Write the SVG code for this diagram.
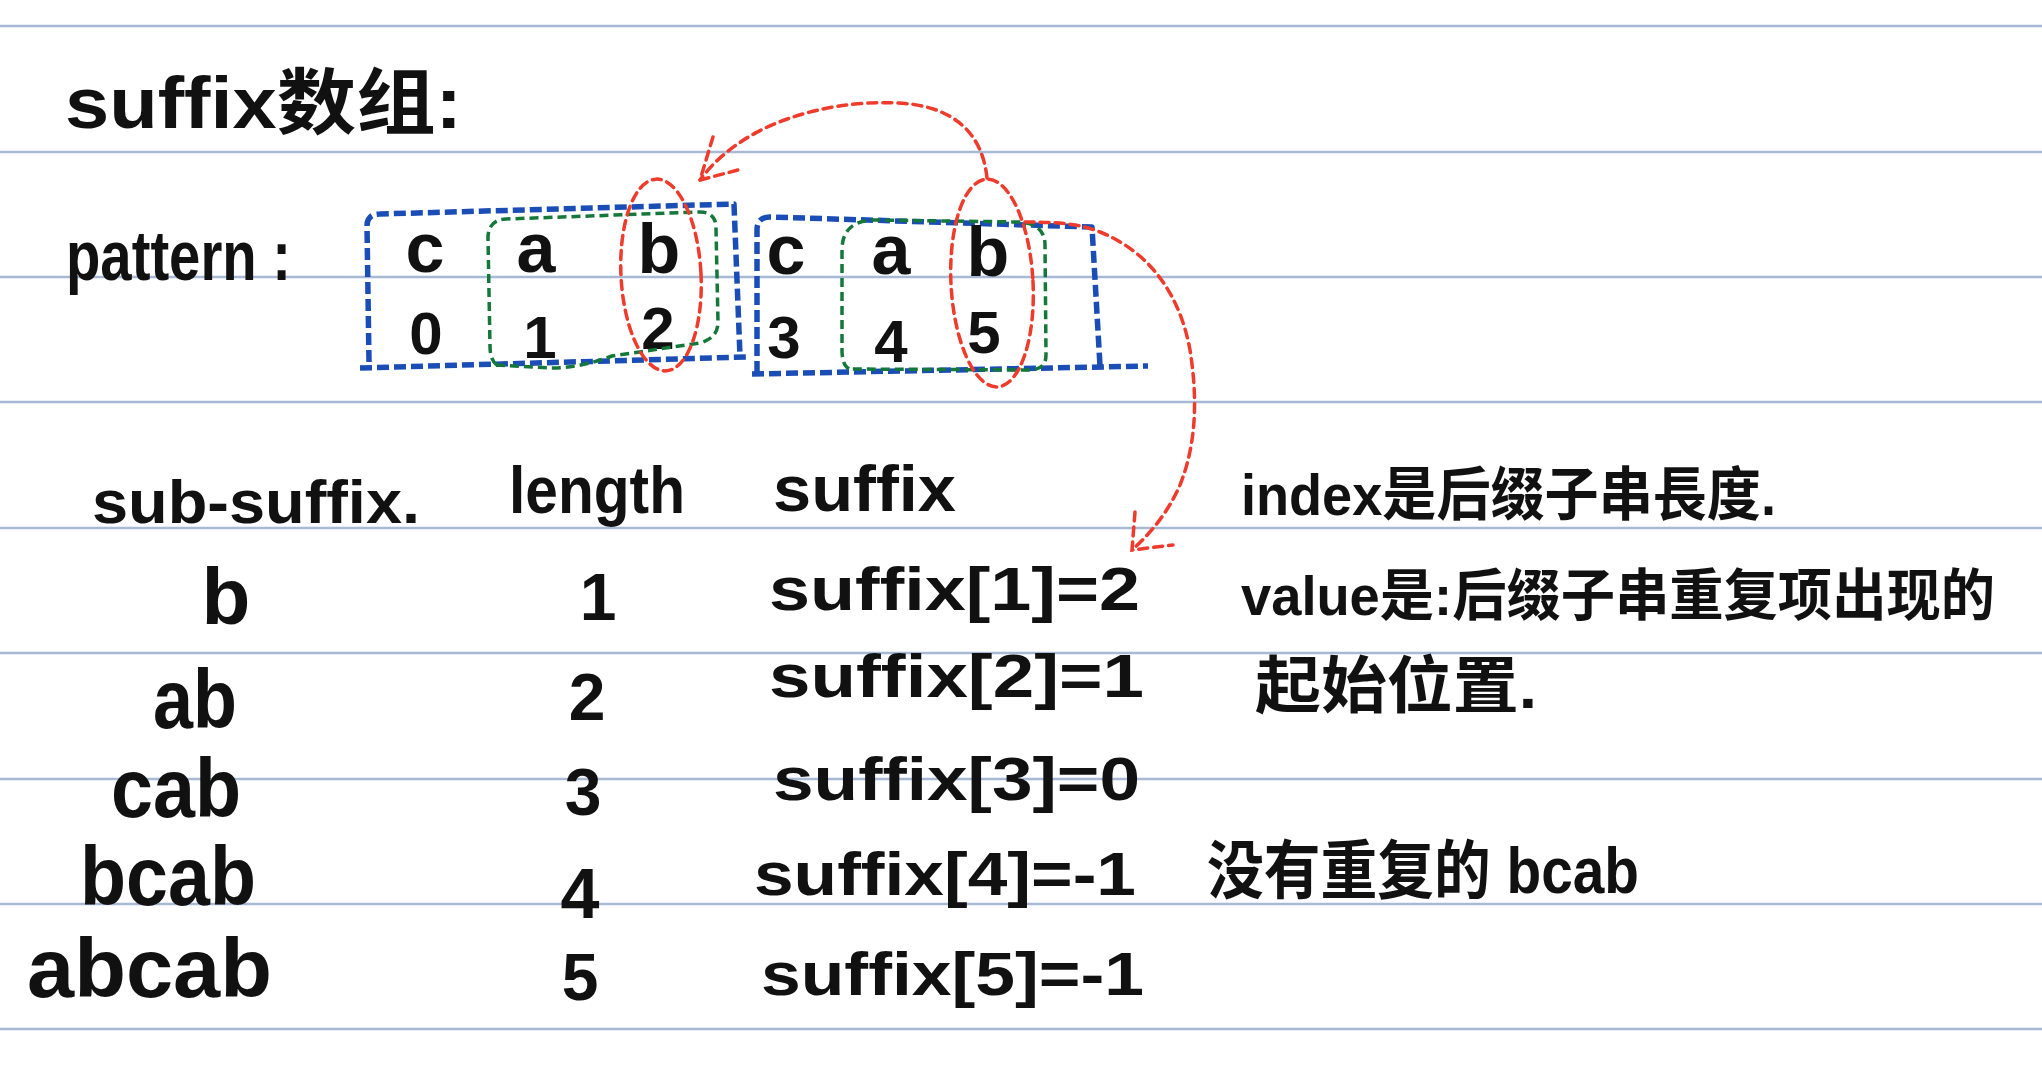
<svg xmlns="http://www.w3.org/2000/svg" width="2042" height="1070" viewBox="0 0 2042 1070">
<style>
.rule{stroke:#a8b9d6;stroke-width:2.5;fill:none}
.hw{font-family:"Liberation Sans","Noto Sans CJK SC",sans-serif;font-weight:700;fill:#111}
.blue{stroke:#1b4db6;stroke-width:5.5;fill:none;stroke-dasharray:12 5;stroke-linejoin:round}
.green{stroke:#14783a;stroke-width:3.5;fill:none;stroke-dasharray:9 5}
.red{stroke:#ee3b2b;stroke-width:3.5;fill:none;stroke-dasharray:9 6;stroke-linecap:round}
.mid{text-anchor:middle}
</style>
<rect width="2042" height="1070" fill="#ffffff"/>
<g id="ruled-lines">
<path class="rule" d="M0 26H2042M0 152H2042M0 277H2042M0 402H2042M0 528H2042M0 653H2042M0 779H2042M0 904H2042M0 1029H2042"/>
</g>
<g id="title"><text class="hw" x="65" y="128" font-size="72" textLength="397" lengthAdjust="spacingAndGlyphs">suffix数组:</text></g>
<g id="pattern-label"><text class="hw" x="66" y="280" font-size="70" textLength="225" lengthAdjust="spacingAndGlyphs">pattern :</text></g>
<g id="box1">
<path class="blue" d="M369 362 L367 226 Q367 214 380 214 L734 204 L740 356 M360 368 L747 357"/>
<text class="hw mid" x="425" y="272" font-size="70">c</text>
<text class="hw mid" x="536" y="272" font-size="70">a</text>
<text class="hw mid" x="659" y="273" font-size="70">b</text>
<text class="hw mid" x="426" y="354" font-size="60">0</text>
<text class="hw mid" x="540" y="358" font-size="60">1</text>
<text class="hw mid" x="658" y="349" font-size="60">2</text>
</g>
<g id="box2">
<path class="blue" d="M757 373 L757 230 Q757 217 770 217 L1092 227 L1100 366 M752 374 L1148 366"/>
<text class="hw mid" x="786" y="274" font-size="70">c</text>
<text class="hw mid" x="891" y="274" font-size="70">a</text>
<text class="hw mid" x="988" y="276" font-size="70">b</text>
<text class="hw mid" x="784" y="358" font-size="60">3</text>
<text class="hw mid" x="891" y="362" font-size="60">4</text>
<text class="hw mid" x="984" y="353" font-size="60">5</text>
</g>
<g id="group-ab-1"><path class="green" d="M497 365 Q490 360 490 346 L488 238 Q488 220 506 219 L700 212 Q716 212 716 228 L718 322 Q718 338 700 343 L612 356 Q580 368 551 368 Z"/></g>
<g id="group-ab-2"><path class="green" d="M849 369 Q842 365 842 350 L842 250 Q842 222 872 220 L1020 222 Q1045 224 1045 245 L1046 355 Q1046 368 1033 370 Z"/></g>
<g id="group-b-1"><ellipse class="red" cx="661" cy="275" rx="40" ry="96" transform="rotate(-3 661 275)"/></g>
<g id="group-b-2"><ellipse class="red" cx="992" cy="283" rx="41" ry="104" transform="rotate(-3 992 283)"/></g>
<g id="connectors">
<path class="red" d="M987 178 C982 130 950 105 897 103 C855 101 820 108 790 118 C755 130 722 150 700 180"/>
<path class="red" d="M713 137 L700 180 L738 170"/>
<path class="red" d="M1025 222 C1060 222 1080 224 1100 232 C1150 252 1180 295 1190 350 C1198 400 1196 445 1180 485 C1168 512 1152 532 1132 550"/>
<path class="red" d="M1135 512 L1132 550 L1173 545"/>
</g>
<g id="table">
<text class="hw" x="92" y="523" font-size="62" textLength="328" lengthAdjust="spacingAndGlyphs">sub-suffix.</text>
<text class="hw" x="509" y="513" font-size="66" textLength="176" lengthAdjust="spacingAndGlyphs">length</text>
<text class="hw" x="773" y="511" font-size="64" textLength="183" lengthAdjust="spacingAndGlyphs">suffix</text>
<text class="hw mid" x="226" y="624" font-size="80">b</text>
<text class="hw" x="153" y="728" font-size="84" textLength="84" lengthAdjust="spacingAndGlyphs">ab</text>
<text class="hw" x="111" y="817" font-size="84" textLength="130" lengthAdjust="spacingAndGlyphs">cab</text>
<text class="hw" x="80" y="905" font-size="84" textLength="176" lengthAdjust="spacingAndGlyphs">bcab</text>
<text class="hw" x="27" y="997" font-size="84" textLength="245" lengthAdjust="spacingAndGlyphs">abcab</text>
<text class="hw mid" x="598" y="620" font-size="66">1</text>
<text class="hw mid" x="587" y="720" font-size="66">2</text>
<text class="hw mid" x="583" y="815" font-size="66">3</text>
<text class="hw mid" x="580" y="918" font-size="70">4</text>
<text class="hw mid" x="580" y="1000" font-size="66">5</text>
<text class="hw" x="769" y="610" font-size="62" textLength="371" lengthAdjust="spacingAndGlyphs">suffix[1]=2</text>
<text class="hw" x="769" y="697" font-size="62" textLength="375" lengthAdjust="spacingAndGlyphs">suffix[2]=1</text>
<text class="hw" x="773" y="800" font-size="62" textLength="367" lengthAdjust="spacingAndGlyphs">suffix[3]=0</text>
<text class="hw" x="754" y="895" font-size="62" textLength="382" lengthAdjust="spacingAndGlyphs">suffix[4]=-1</text>
<text class="hw" x="761" y="995" font-size="62" textLength="383" lengthAdjust="spacingAndGlyphs">suffix[5]=-1</text>
</g>
<g id="notes">
<text class="hw" x="1241" y="515" font-size="58" textLength="535" lengthAdjust="spacingAndGlyphs">index是后缀子串長度.</text>
<text class="hw" x="1241" y="615" font-size="56" textLength="754" lengthAdjust="spacingAndGlyphs">value是:后缀子串重复项出现的</text>
<text class="hw" x="1255" y="708" font-size="62" textLength="282" lengthAdjust="spacingAndGlyphs">起始位置.</text>
<text class="hw" x="1207" y="893" font-size="64" textLength="432" lengthAdjust="spacingAndGlyphs">没有重复的 bcab</text>
</g>
</svg>
